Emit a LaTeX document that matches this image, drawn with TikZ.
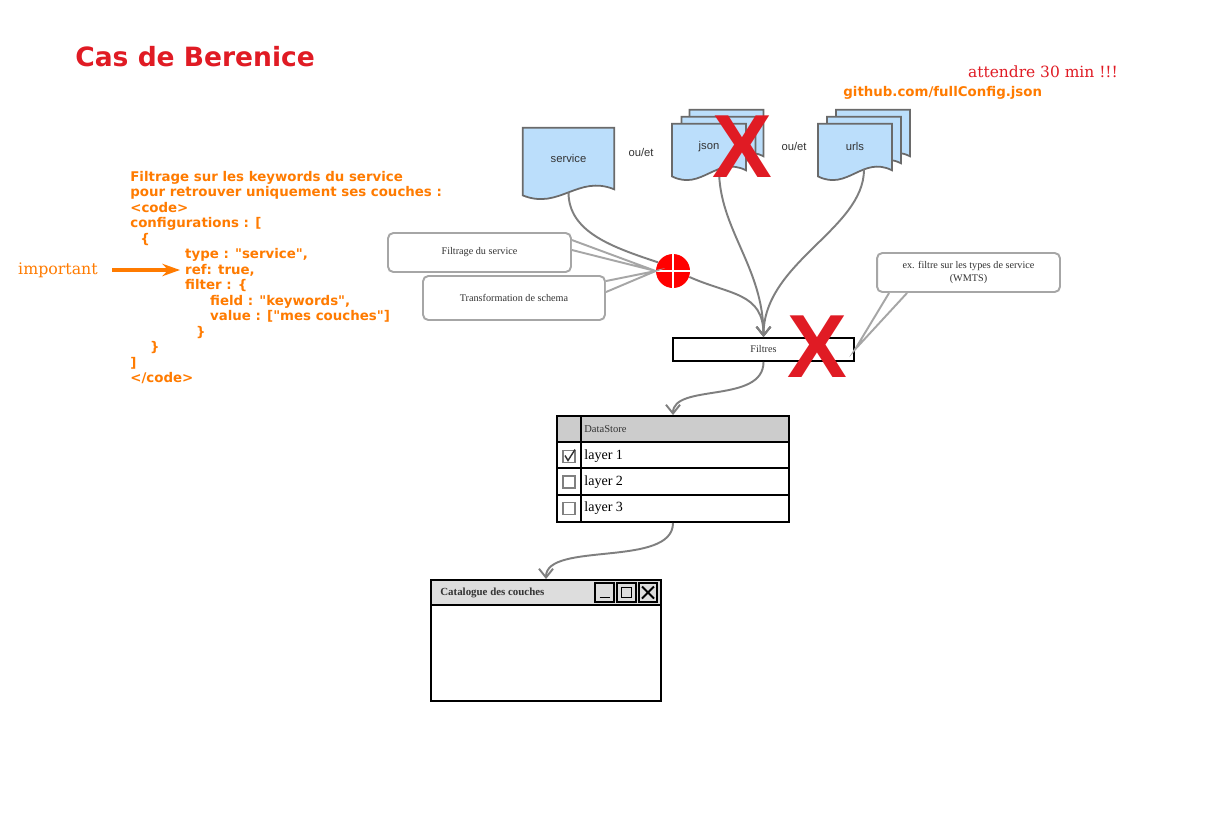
\documentclass[tikz,border=0pt]{standalone}
\usepackage{fontspec}
\setmainfont{Liberation Serif}
\newfontfamily\dvsans{DejaVu Sans}
\newfontfamily\dvserif{DejaVu Serif}
\newfontfamily\lsans{Liberation Sans}
\usepackage{xcolor}
\usepackage{tikz}
\usetikzlibrary{positioning,arrows.meta,calc,backgrounds}

\definecolor{codeorange}{HTML}{FF7B00}
\definecolor{berred}{HTML}{E01B24}
\definecolor{docblue}{HTML}{BBDEFB}
\definecolor{docedge}{HTML}{6A6A6A}
\definecolor{linkgray}{HTML}{7F7F7F}
\definecolor{callgray}{HTML}{A6A6A6}
\definecolor{headgray}{HTML}{CCCCCC}
\definecolor{bargray}{HTML}{DDDDDD}
\definecolor{inkgray}{HTML}{333333}

% wavy bottom of a document shape
\newcommand{\docpath}[1]{(#1.north west) -- (#1.north east) -- ($(#1.south east)+(0,1)$)
  .. controls ($(#1.south west)!0.6!(#1.south east)+(0,-14)$) and ($(#1.south west)!0.4!(#1.south east)+(0,22)$)
  .. ($(#1.south west)+(0,7)$) -- cycle}

\begin{document}
\begin{tikzpicture}
            [x=0.02cm,y=-0.02cm,
             docnode/.style={inner sep=0pt, minimum width=1.47cm, minimum height=0.9cm, font=\lsans\fontsize{6.4}{7}\selectfont, text=inkgray},
             doc/.style={draw=docedge, fill=docblue, line width=1pt},
             link/.style={draw=linkgray, line width=1.1pt},
             linkarrow/.style={link, -{Straight Barb[length=5pt,width=8pt]}},
             callout/.style={draw=callgray, line width=1.1pt, rounded corners=3pt, fill=white, minimum width=3.66cm, minimum height=0.78cm, inner sep=1pt, align=center, text=inkgray, font=\fontsize{5.8}{7}\selectfont},
             callline/.style={draw=callgray, line width=1.1pt},
             crossmark/.style={inner sep=0pt, text=berred, font=\lsans\bfseries\fontsize{51}{51}\selectfont},
             codetext/.style={inner sep=0pt, align=left, text=codeorange, font=\dvsans\bfseries\fontsize{7.6}{8.8}\selectfont},
             blackline/.style={draw=black, line width=1.1pt},
             chkbox/.style={draw=gray, line width=0.8pt, minimum size=0.24cm, inner sep=0pt},
             layertext/.style={inner sep=0pt, font=\fontsize{8}{9}\selectfont},
             winbtn/.style={blackline, minimum size=0.37cm, inner sep=0pt}]

            \begin{scope}[on background layer]
              \fill[white] (0,0) rectangle (1219,812);
            \end{scope}
            \useasboundingbox (0,0) rectangle (1219,812);

            % titles and notes
            \node[anchor=west, inner sep=0pt, text=berred, font=\dvsans\bfseries\fontsize{15.1}{18}\selectfont] (title) at (75,57) {Cas de Berenice};
            \node[inner sep=0pt, text=berred, font=\dvserif\fontsize{8.8}{10}\selectfont] (wait) at (1043,72) {attendre 30 min !!!};
            \node[anchor=west, inner sep=0pt, text=codeorange, font=\dvsans\bfseries\fontsize{7.6}{8.8}\selectfont] (github) at (843,93) {github.com/fullConfig.json};
            \node[codetext, anchor=north west] (codeblock) at (130,171) {%
              Filtrage sur les keywords du service\\
              pour retrouver uniquement ses couches :\\
              <code>\\
              configurations : [\\
              \hspace*{5.7pt}\{\\
              \hspace*{31.2pt}type : "service",\\
              \hspace*{31.2pt}ref: true,\\
              \hspace*{31.2pt}filter : \{\\
              \hspace*{45.4pt}field : "keywords",\\
              \hspace*{45.4pt}value : ["mes couches"]\\
              \hspace*{37.4pt}\}\\
              \hspace*{11.3pt}\}\\
              ]\\
              </code>};
            \node[inner sep=0pt, text=codeorange, font=\dvserif\fontsize{9}{11}\selectfont] (important) at (58,270) {important};
            \coordinate (reftip) at (180,270);
            \draw[codeorange, line width=2.3pt, shorten <=8pt, -{Stealth[length=10pt,width=7pt]}] (important) -- (reftip);

            % sources
            \node[docnode, minimum width=1.82cm, minimum height=1.2cm] (service) at (568.5,158) {service};
            \node[docnode] (jsonc) at (726.5,132.5) {};
            \node[docnode] (jsonb) at (718.5,139.5) {};
            \node[docnode] (json) at (709,146.5) {json};
            \node[docnode] (urlsc) at (873,132.5) {};
            \node[docnode] (urlsb) at (864,139.5) {};
            \node[docnode] (urls) at (855,146.5) {urls};
            \node[docnode, minimum width=0pt, minimum height=0pt] (oret1) at (641,152) {ou/et};
            \node[docnode, minimum width=0pt, minimum height=0pt] (oret2) at (794,146) {ou/et};

            \begin{scope}[on background layer]
              \foreach \doc in {service, jsonc, jsonb, json, urlsc, urlsb, urls}
                \draw[doc] \docpath{\doc};
            \end{scope}

            % service filter
            \node[circle, fill=red, minimum size=0.68cm, inner sep=0pt] (stop) at (673,271) {};
            \draw[white, line width=1pt] (stop.north) -- (stop.south) (stop.west) -- (stop.east);

            \node[blackline, minimum width=3.62cm, minimum height=0.46cm, inner sep=0pt, text=inkgray, font=\fontsize{5.8}{7}\selectfont] (filtres) at (763.5,349.5) {Filtres};

            \node[callout] (filtsvc) at (479.5,252.5) {Filtrage du service};
            \node[callout, minimum width=3.64cm, minimum height=0.88cm] (transf) at (514,298) {Transformation de schema};
            \node[callout] (typefilt) at (968.5,272.5) {ex. filtre sur les types de service\\(WMTS)};

            \fill[white] ($(filtsvc.north east)+(0,8)$) -- (stop.west) -- ($(filtsvc.north east)+(0,18)$) -- cycle;
            \draw[callline] ($(filtsvc.north east)+(0,8)$) -- (stop.west) -- ($(filtsvc.north east)+(0,18)$);
            \fill[white] ($(transf.north east)+(0,6)$) -- (stop.west) -- ($(transf.north east)+(0,17)$) -- cycle;
            \draw[callline] ($(transf.north east)+(0,6)$) -- (stop.west) -- ($(transf.north east)+(0,17)$);
            \fill[white] ($(typefilt.south west)+(13,0)$) -- (filtres.east) -- ($(typefilt.south west)+(31,0)$) -- cycle;
            \draw[callline] ($(typefilt.south west)+(13,0)$) -- (filtres.east) -- ($(typefilt.south west)+(31,0)$);

            % flows into the filters
            \draw[link] ([yshift=-0.08cm]service.south) .. controls +(0,40) and +(-45,-15) .. (stop.150);
            \draw[linkarrow] (stop.-20) .. controls +(40,18) and +(0,-45) .. (filtres.north);
            \draw[linkarrow] ([xshift=0.2cm]json.south) .. controls +(0,60) and +(0,-70) .. (filtres.north);
            \draw[linkarrow] ([xshift=0.18cm]urls.south) .. controls +(0,60) and +(0,-75) .. (filtres.north);

            \node[crossmark] (jsonx) at (742,147) {X};
            \node[crossmark] (filtx) at (817,347) {X};

            % datastore
            \fill[headgray] (557,416) rectangle (789,442);
            \node[blackline, minimum width=4.64cm, minimum height=2.12cm, inner sep=0pt] (store) at (673,469) {};
            \draw[blackline] (557,442) -- (789,442) (557,468) -- (789,468) (557,495) -- (789,495) (581,416) -- (581,522);
            \node[anchor=west, inner sep=0pt, text=inkgray, font=\fontsize{6}{7}\selectfont] (storehead) at (584,429) {DataStore};
            \foreach \row/\ypos in {1/456.5, 2/482, 3/508.5}
            {
              \node[chkbox] (chk\row) at (569,\ypos) {};
              \node[layertext, anchor=west] (layer\row) at (584,\ypos) {layer \row};
            }
            \draw[inkgray, line width=0.8pt] ($(chk1.center)+(-4,-1)$) -- ($(chk1.center)+(-1,4)$) -- ($(chk1.center)+(6,-7)$);

            % layer catalogue window
            \fill[bargray] (431,580) rectangle (661,605);
            \node[blackline, minimum width=4.6cm, minimum height=2.42cm, inner sep=0pt] (catalog) at (546,640.5) {};
            \draw[blackline] (431,605) -- (661,605);
            \node[anchor=west, inner sep=0pt, text=inkgray, font=\bfseries\fontsize{6.2}{7}\selectfont] (cattitle) at (440,592.5) {Catalogue des couches};
            \foreach \btn/\xpos in {btnmin/604.5, btnmax/626.5, btnclose/648}
              \node[winbtn] (\btn) at (\xpos,592.5) {};
            \draw[blackline] ($(btnmin.center)+(-5,5)$) -- ($(btnmin.center)+(5,5)$);
            \draw[blackline] ($(btnmax.center)+(-5,-5)$) rectangle ($(btnmax.center)+(5,5)$);
            \draw[blackline] ($(btnclose.center)+(-6,-6)$) -- ($(btnclose.center)+(6,6)$) ($(btnclose.center)+(-6,6)$) -- ($(btnclose.center)+(6,-6)$);

            \draw[linkarrow] (filtres.south) .. controls +(0,42) and +(0,-32) .. (store.north);
            \draw[linkarrow] (store.south) .. controls +(0,45) and +(0,-38) .. (catalog.north);
          \end{tikzpicture}
\end{document}
